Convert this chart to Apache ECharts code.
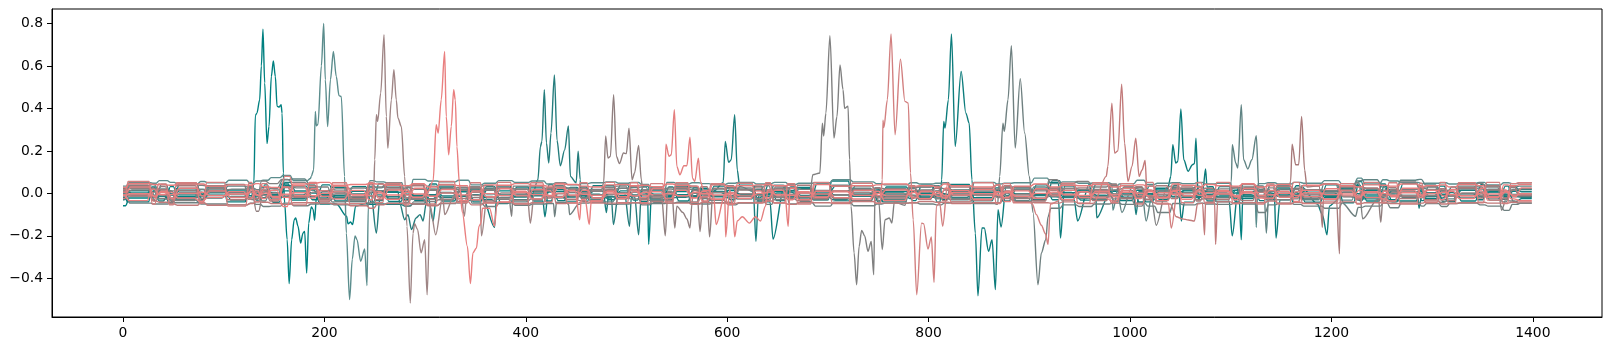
<!DOCTYPE html>
<html><head><meta charset="utf-8">
<style>html,body{margin:0;padding:0;background:#fff}#c{width:1617px;height:360px}</style>
<script src="https://cdn.jsdelivr.net/npm/echarts@6/dist/echarts.min.js"></script>
</head><body><div id="c"></div>
<script>
const xTicks=[0,200,400,600,800,1000,1200,1400];
const yTicks=[-0.4,-0.2,0,0.2,0.4,0.6,0.8];
// plateau boundaries of the dense band (x values)
const bandEdges=[0,4,28,34,45,52,75,82,103,124,
130,137,145,157,167,184,194,207,224,243,
250,260,278,286,301,313,331,344,357,371,
387,404,419,428,440,453,463,478,490,503,
513,523,538,548,563,573,583,599,609,627,
637,645,659,669,685,703,723,746,754,780,
789,805,813,821,843,866,873,883,903,919,
931,947,962,980,990,1005,1015,1025,1040,1050,
1065,1073,1085,1101,1110,1125,1135,1145,1161,1170,
1191,1208,1224,1231,1249,1256,1267,1287,1292,1307,
1315,1325,1345,1353,1369,1377,1385,1399];
// band levels, ten-thousandths scale kept compact: value/1000, estimated by eye
const levelsTealA=[-58,-22,12,-26,32,-14,18,-9,16,-11,
20,-12,26,-30,-15,-48,-50,-46,-48,-52,
-50,-52,-60,-50,-18,22,-14,16,-20,12,
-16,10,-12,18,-15,8,-20,14,-10,16,
-18,12,-14,9,-16,20,-12,15,-10,18,
-14,10,-16,22,-18,12,-10,16,-14,9,
-18,12,-15,10,-20,14,-12,18,-10,15,
-14,16,-12,10,-18,14,-10,20,-16,12,
-14,9,-18,15,-12,10,-16,20,-14,12,
-18,22,-30,14,-12,18,-10,16,-14,12,
-10,15,-12,18,-14,10,-6];
const levelsTealB=[22,30,-34,42,-38,48,-30,36,-32,30,
-36,40,-42,36,34,-30,40,-36,32,-42,
45,-38,30,-34,44,-36,28,-40,32,-44,
30,-36,42,-34,28,-38,36,-30,40,-32,
34,-42,30,-36,28,-40,34,-30,38,-36,
42,-34,30,-38,44,-32,36,-40,30,-34,
38,-42,32,-36,30,-44,34,-38,40,-30,
36,-32,42,-36,30,-40,34,-28,38,-42,
30,-36,32,-40,28,-34,38,-30,36,-42,
40,-44,56,-36,34,-40,46,-34,32,-38,
30,-36,42,-32,34,-38,-24];
const levelsTealC=[-18,-40,30,-12,-44,22,-32,26,-40,34,
-26,30,-20,44,-32,26,-30,28,-38,30,
-34,28,-30,40,-26,34,-44,30,-24,36,
-30,26,-36,22,-40,30,-28,36,-24,30,
-38,26,-30,34,-42,24,-32,28,-26,34,
-40,30,-22,28,-30,58,-34,26,-40,30,
-24,36,-28,42,-34,26,-36,30,-28,52,
-30,42,-24,36,-34,28,-40,24,-30,38,
-26,32,-38,28,-24,34,-30,26,-40,30,
-34,28,38,-26,44,-30,-36,28,-24,34,
-38,26,-30,36,-28,34,18];
const levelsTealD=[10,14,-10,20,-8,12,-6,10,-5,8,
-14,6,-10,52,12,-16,8,-20,10,-14,
12,-24,8,-16,20,-12,16,-30,14,-10,
20,-12,8,-18,14,-6,10,-16,12,-8,
16,-10,6,-14,18,-8,12,-20,10,-12,
8,-16,14,-10,6,34,-12,16,-8,14,
-18,6,-12,16,-8,18,-10,20,-6,60,
-12,16,-8,14,-20,10,-14,12,-6,16,
-10,20,-8,14,-16,6,-12,18,-10,14,
-16,6,-34,16,-8,12,-20,6,-14,10,
-8,14,-18,6,-12,16,8];
const levelsTealE=[-30,-8,22,-36,10,-26,6,-22,4,-24,
8,-20,4,-14,-8,16,-22,6,-18,4,
-20,10,-14,6,-26,4,-12,22,-30,-48,
4,-20,6,-12,2,-18,-4,-22,2,-16,
4,-24,6,-10,2,-18,4,-12,-6,-22,
2,-14,6,-20,-4,-30,4,-16,2,-24,
6,-14,-2,-20,4,-12,2,-18,-4,-12,
4,-24,6,-14,2,-18,-2,-16,4,-10,
-20,-4,2,-14,-6,-18,2,-10,4,-24,
2,-14,-20,6,-18,4,12,-12,2,-22,
4,-10,2,-16,-4,-12,-14];
const levelsSlateA=[34,50,48,60,52,44,56,50,62,46,
58,62,74,84,60,70,52,56,44,60,
54,50,-20,66,58,54,62,40,48,60,
52,58,44,50,40,46,50,54,48,52,
42,-30,52,44,50,46,42,48,52,44,
46,52,42,48,50,64,54,46,40,50,
44,48,50,-24,52,44,48,50,72,46,
54,48,50,44,46,62,42,48,50,46,
52,44,48,-30,42,46,50,44,52,48,
60,46,72,44,64,58,52,46,48,50,
44,48,52,40,50,46,50];
const levelsSlateB=[-12,36,42,12,-30,-30,-44,16,34,28,
10,-36,24,64,68,40,-40,-24,-30,46,
26,36,-44,-18,34,28,-38,-32,24,30,
-40,-26,18,36,26,-20,-30,-40,24,28,
30,-36,-22,30,26,-24,-32,36,20,-30,
-28,38,26,-22,-30,38,24,-34,-28,24,
30,36,-22,-30,24,40,-20,-34,30,26,
36,-22,-30,38,24,30,-18,-36,28,22,
34,-26,-20,36,30,-24,-28,38,22,-30,
46,-32,58,64,30,-36,62,66,40,-30,
-26,34,30,-22,-40,28,34];
const levelsGreyA=[8,-46,-50,-50,-44,-44,-50,-50,-54,-46,
-52,-62,-60,-46,-58,-50,-48,-54,-56,-44,
-52,-46,-60,-40,-56,-48,20,-46,-62,-44,
-56,-50,-48,-42,-52,-46,-42,-52,-50,-44,
-54,-48,-46,-42,-48,-50,-44,-54,-46,-40,
-52,30,-50,-44,-60,-42,-58,-50,-46,-44,
-50,-54,-46,-40,-48,-52,-44,-46,-58,-70,
-54,-62,-50,-46,-52,-44,-60,-90,-48,-54,
-46,-50,-52,-44,-50,-90,-54,-46,-52,-60,
-70,-44,-66,-60,-46,-68,-40,-60,-48,-62,
-48,-46,-54,-60,-80,-52,-46];
const levelsGreyB=[16,34,26,-24,-30,-34,38,36,42,-28,
-30,58,46,66,52,36,30,-40,-36,-46,
30,40,22,-28,-38,-30,28,22,36,-28,
34,34,24,-20,-30,-34,18,28,34,-26,
-24,-34,20,16,34,-22,-30,-42,26,20,
36,-30,-22,-34,36,24,46,-38,-56,28,
30,34,-22,-28,-34,20,30,26,-34,64,
44,56,30,44,-26,-60,-30,28,34,20,
-30,-24,-38,26,30,34,-22,-30,-26,36,
44,28,50,-30,-26,-40,54,24,30,-42,
-34,22,48,30,-26,-36,-46];
const levelsBrownA=[12,24,-18,32,-22,14,-36,24,-16,22,
-84,16,-22,30,-18,24,-26,12,-16,26,
-14,40,-20,-24,18,-28,14,-20,16,-22,
20,-30,26,-14,18,-24,12,-18,26,-10,
16,-22,10,-28,14,-18,24,-14,16,-26,
12,-20,28,-16,10,-24,18,-12,22,-18,
14,-26,16,-10,22,-20,12,-24,18,-14,
22,-12,18,-26,14,-20,10,-18,22,-14,
16,-26,12,-18,20,-14,26,-12,18,-22,
-30,14,-20,24,-12,18,-16,22,-10,20,
-14,24,-12,18,-20,14,-8];
const levelsBrownB=[-6,-14,6,-8,-30,4,-12,8,-4,-20,
4,-10,2,-8,-18,6,-14,-2,-26,4,
-12,2,-18,8,-4,-14,6,-10,-20,2,
-8,6,-16,-2,-12,4,-22,-6,2,-10,
6,-16,-4,-12,2,-8,4,-18,-2,-10,
6,-14,-4,2,-16,-8,4,-20,-2,-12,
6,-8,-18,2,-10,4,-14,-4,-22,2,
-10,6,-16,-2,-8,4,-18,-6,2,-12,
6,-14,-2,-10,4,-18,-6,2,-12,-4,
6,-16,-8,2,-14,4,-10,-18,-2,6,
-12,2,-8,-16,4,-10,-6];
const levelsRoseA=[4,40,-30,18,-40,36,-26,32,-30,36,
-24,14,-36,28,-16,36,-28,34,-24,40,
-30,26,-34,36,-28,42,-24,30,-36,24,
-32,36,-22,30,-28,24,-36,20,-26,34,
-30,22,-36,28,-20,32,-28,36,-24,30,
-36,20,-28,38,-24,34,-32,26,-22,36,
-28,24,-34,30,-26,40,-24,32,-36,22,
-30,26,-34,40,-22,30,-28,36,-24,30,
-36,24,-28,30,-34,26,-22,32,-30,36,
-26,34,-30,24,-36,28,-24,36,-30,22,
-34,28,-22,36,-26,30,-12];
const levelsCoralA=[20,-8,-36,-42,-50,-56,-44,-56,-54,-48,
-40,-42,-48,-52,-44,-44,-46,-50,-58,-70,
-54,-48,-46,-50,-58,-46,-40,-54,-44,-42,
-50,-44,28,-48,-46,-40,-46,-46,-44,-44,
-48,-40,-46,-46,-52,-42,-46,-48,-44,-44,
-36,-46,-52,-42,-44,-48,-38,-46,-46,-44,
-38,-42,-42,-48,-44,-44,36,-40,-44,-46,
-40,-48,-46,-42,-46,-46,-44,-50,-38,-44,
-46,-42,-40,-48,-44,-44,-36,-50,-42,-46,
-46,-40,-48,-44,-44,-48,-50,-46,-36,-50,
-48,-44,-42,-46,-46,-42,-40];
const levelsCoralB=[-24,56,-50,44,-54,50,-46,52,-60,52,
-40,46,-30,30,-54,52,-36,50,-48,52,
-44,48,-54,46,-50,56,-44,50,-46,52,
-48,50,-42,48,-44,50,-40,52,-46,50,
-44,46,-40,50,-42,-16,46,-52,48,-46,
50,-44,46,-50,52,-44,48,-46,50,-52,
46,-44,52,-40,50,-48,46,-44,52,-36,
48,-46,50,-44,46,-50,52,-46,48,-44,
50,-46,52,-48,46,-50,44,-46,52,-48,
-40,46,-50,52,-44,50,-46,48,-44,52,
-46,50,-44,52,-48,46,50];
const levelsCoralC=[6,30,-16,10,-24,24,-12,12,-20,16,
-10,26,-18,80,-10,22,-14,36,-8,18,
-22,16,-8,24,-14,18,-34,12,-16,22,
-12,18,-10,24,-8,14,-22,12,-16,8,
-10,24,-14,10,-20,14,-8,18,-12,-12,
16,-8,24,-14,10,-20,14,-10,16,-22,
10,-14,24,-8,18,-12,10,-16,22,-8,
14,-20,10,-16,24,-12,8,-18,14,-10,
20,-12,8,-16,24,-10,14,-18,8,-14,
22,-8,14,-20,10,-16,24,-8,14,-12,
18,-10,24,-14,8,-16,26];
const levelsCoralD=[-10,-34,20,-6,6,-22,-38,-20,8,-26,
12,-24,14,-62,36,-22,12,-26,14,-30,
8,-28,16,-18,8,-24,64,-18,20,-40,
10,-26,12,-18,14,-30,-36,10,-24,16,
-20,8,-26,14,-22,8,-28,-2,-24,12,
-22,14,-30,8,-18,12,-26,10,-34,14,
-24,10,-22,14,-30,8,-20,12,-24,16,
-30,8,-22,-36,12,-24,16,-22,10,-28,
12,-18,14,-30,8,-22,-26,10,-20,14,
-28,12,-22,8,-26,-36,12,-20,14,-30,
10,-24,12,-20,16,-26,-34];
const levelsCoralE=[28,46,42,40,38,44,44,34,40,38,
46,32,28,-18,44,48,52,38,42,46,
44,38,36,44,30,40,36,-30,40,38,
46,38,34,44,42,34,30,40,42,36,
38,32,44,38,34,-36,40,32,36,40,
42,36,38,-30,42,34,36,40,44,34,
36,30,44,36,30,40,-38,34,44,30,
38,36,42,30,36,40,34,-34,44,38,
30,42,36,34,44,30,36,42,-38,38,
44,36,30,40,38,34,44,30,36,40,
30,42,36,-32,40,36,42];
// slower inner lines that fill the middle of the band
const levelsInnerA=[2,6,9,5,-3,-7,-4,3,7,4,
-2,-8,-5,12,6,2,-6,-9,-3,4,
8,5,-4,-9,-6,3,8,5,-2,-7,
-4,2,7,9,4,-3,-8,-5,2,6,
3,-4,-9,-6,1,5,9,4,-3,-7,
-5,2,7,4,-2,-8,-4,3,9,6,
-1,-6,-9,-3,4,8,5,-2,-7,-4,
3,9,6,-1,-5,-8,-2,4,7,3,
-4,-9,-5,2,8,5,-3,-7,-4,3,
9,5,-2,-8,-6,1,6,9,3,-4,
-7,-2,5,8,3,-5,-3];
const levelsInnerB=[-4,-12,-18,-14,-8,-20,-15,-10,-16,-22,
-13,-6,-12,-19,-24,-14,-9,-17,-21,-12,
-7,-16,-22,-15,-10,-18,-13,-6,-14,-20,
-16,-9,-13,-21,-17,-11,-6,-15,-20,-13,
-8,-14,-22,-18,-11,-7,-16,-21,-14,-9,
-13,-19,-23,-15,-10,-6,-14,-20,-16,-9,
-12,-22,-17,-10,-7,-15,-21,-13,-8,-16,
-20,-14,-9,-12,-22,-16,-10,-7,-15,-19,
-12,-8,-17,-22,-14,-10,-6,-16,-20,-13,
-9,-15,-24,-17,-11,-7,-14,-20,-15,-9,
-13,-21,-16,-10,-7,-15,-18];
const levelsInnerC=[6,16,22,18,12,24,19,14,20,26,
17,11,16,30,26,18,13,21,25,16,
12,20,27,19,14,22,17,11,18,24,
20,13,17,25,21,15,10,19,24,17,
12,18,26,22,15,11,20,25,18,13,
17,23,27,19,14,10,18,24,20,13,
16,26,21,14,11,19,25,17,12,20,
24,18,13,16,26,20,14,11,19,23,
16,12,21,26,18,14,10,20,24,17,
13,19,32,21,15,11,18,24,19,13,
17,25,20,14,11,19,22];
const levelsInnerD=[-8,-2,-12,4,-6,-1,5,-10,-3,6,
-9,2,-14,-4,3,-11,0,7,-5,-12,
1,-8,5,-3,-13,2,-7,6,-1,-10,
3,-6,-12,1,7,-4,-9,2,-2,-13,
4,-7,1,-11,5,-2,-8,3,-12,0,
6,-5,-10,2,-3,7,-9,0,-12,4,
-6,1,-11,5,-2,-8,3,-13,0,6,
-4,-10,2,-7,5,-1,-12,3,-6,1,
-9,4,-3,-11,2,6,-7,0,-10,3,
-5,1,-15,6,-2,-9,3,-12,0,5,
-6,-11,2,-3,7,-8,-2];
// excursions out of the band, [x, y]
const burst1=[[130,.05],[131.4,.367],[133,.378],[135.7,.44],[137.4,.6],[139,.773],[140.7,.52],[143,.234],[145,.315],[147.3,.55],[149.3,.624],[151.3,.55],[153,.41],[155,.406],[157,.417],[158,.378],[159.2,.096],[160.5,-.045],[163,-.218],[165,-.425],[167.5,-.218],[170,-.124],[171.5,-.116],[173.8,-.155],[176.4,-.234],[178.7,-.187],[180.4,-.179],[182.4,-.375],[184.4,-.14],[187,-.064],[188.7,-.074],[190.3,-.127],[192,-.02]];
const tail1=[[212,-.05],[222,-.108],[223.5,-.143],[226,-.135],[228,-.147],[231,-.06]];
const burst2=[[187,.08],[189.3,.11],[191,.386],[192,.318],[193.6,.325],[197,.6],[199.3,.8],[200.9,.535],[203.2,.315],[206,.535],[208.9,.668],[211.8,.55],[214.5,.46],[216.8,.456],[220,.08],[221.8,-.187],[225,-.5],[227.7,-.31],[230.4,-.2],[232.4,-.218],[236,-.32],[240,-.262],[242.3,-.434],[243.6,-.06]];
const burst3=[[249,.017],[250,.158],[251.6,.37],[252.9,.339],[255.9,.472],[259.2,.747],[261.5,.362],[263,.213],[266.5,.44],[269,.582],[271.4,.44],[273,.355],[276.4,.315],[279.7,.08],[282,-.155],[285.3,-.516],[288,-.187],[289.6,-.143],[292.5,-.17],[296,-.28],[299.6,-.218],[302,-.477],[305,-.06]];
const burst4=[[308,.06],[311,.323],[313,.284],[316,.44],[319.4,.668],[321,.362],[323.4,.182],[326,.315],[328.4,.488],[330,.44],[331.6,.22],[334,.05],[337,-.09],[342,-.25],[345,-.425],[347.5,-.28],[351,-.257],[353.5,-.155],[355.5,-.14],[357,-.07],[364,-.07],[369,-.155],[371,-.06]];
const burst5=[[412,.064],[414.5,.22],[416,.245],[418.4,.488],[420.5,.237],[422.8,.143],[425,.284],[428.4,.558],[431,.25],[434.3,.13],[438.6,.205],[442.3,.318],[444.3,.08],[450,.05],[452,.198],[454,.064]];
const burst6=[[477.3,.05],[479.3,.27],[481.6,.166],[484,.174],[487.2,.464],[490,.174],[493,.14],[497,.19],[499.8,.187],[502.5,.307],[505.5,.064],[508,.096],[512,.226],[514.7,.064]];
const burst7=[[538,.05],[539.2,.232],[542.2,.174],[544.5,.182],[547.5,.394],[550,.127],[553,.088],[557,.13],[560,.13],[563,.264],[565.5,.072],[567.8,.056],[571.4,.166],[573.4,.056]];
const burst8=[[596,.05],[598.1,.245],[601.4,.146],[604,.158],[607.4,.37],[610,.11],[612.4,.033]];
const burst9=[[685,.088],[692,.096],[694.5,.33],[695.8,.27],[698,.378],[702,.742],[706,.26],[709,.362],[712,.605],[715,.488],[716.6,.4],[720,.41],[721.5,.158],[723,-.06],[726,-.28],[728.5,-.43],[731,-.25],[733.5,-.174],[736.5,-.2],[739.8,-.273],[743,-.226],[745.5,-.383],[746.8,.017]];
const burst10=[[754,.064],[754.6,.344],[755.6,.31],[759,.44],[762.7,.75],[766.7,.276],[772,.632],[776.5,.433],[779.8,.425],[782,.096],[784.7,-.124],[788.2,-.477],[793,-.14],[795,-.143],[799.4,-.262],[802.7,-.205],[805.4,-.419],[807.7,-.06]];
const burst11=[[813,.064],[815,.339],[816.3,.307],[819.6,.44],[822.7,.75],[826.4,.221],[832.3,.574],[837,.378],[840.3,.33],[843,.064],[846.4,-.187],[849,-.482],[853,-.163],[855.3,-.163],[859.5,-.273],[863,-.218],[866.3,-.453],[868.9,-.077]];
const burst12=[[870.6,.08],[873.8,.33],[875.2,.292],[878.8,.44],[882.2,.695],[886,.213],[891,.54],[895.4,.284],[900,.08],[903.7,-.09],[908.6,-.43],[912,-.28],[916.3,-.218],[918.6,-.11]];
const burst13=[[976.4,.08],[978,.127],[982,.425],[984.7,.19],[988,.2],[991.7,.514],[994.6,.237],[998,.056],[1002,.127],[1005.7,.26],[1009,.08],[1012,.11],[1015,.155],[1017,-.014]];
const burst14=[[1040.5,.08],[1042.5,.229],[1045.4,.143],[1047.5,.15],[1050.5,.397],[1053.4,.158],[1057.7,.104],[1062,.135],[1064,.14],[1065.5,.26],[1067.8,-.03],[1072.5,.02],[1075,.115],[1076.5,.03]];
const burst15=[[1100.6,.056],[1101.6,.229],[1105,.143],[1107,.119],[1110.5,.417],[1112.8,.158],[1117,.115],[1121,.158],[1125.4,.271],[1128,.017],[1133,.02],[1135.4,.15],[1138,.02]];
const burst16=[[1159.5,.056],[1161,.232],[1164.5,.135],[1167.5,.135],[1170.4,.362],[1173.4,.11],[1175.7,.03]];
const tailGrey=[[754,-.265],[756.7,-.124],[761,-.116],[763.5,-.14],[766,-.04]];
const tailCoral1=[[605,-.05],[607.5,-.205],[610,-.13],[615,-.11],[622,-.14],[628,-.11],[633,-.13],[638,-.06]];
const tailCoral2=[[903,-.05],[907,-.1],[912,-.15],[916,-.19],[918.6,-.24],[921,-.05]];
const tailBrown=[[550,-.06],[556,-.09],[560,-.12],[563,-.163],[565,-.05]];
const tailRust=[[1040,-.05],[1046,-.11],[1052,-.12],[1058,-.125],[1064,-.13],[1067,-.05]];
const tailTeal=[[1186,-.05],[1191,-.1],[1195.6,-.195],[1198,-.06]];
const tailTealB=[[275,-.05],[279.7,-.124],[283,-.1],[286.5,-.17],[291,-.116],[295,-.1],[298,-.13],[301,-.05]];
function single(x,y){return [[x,y]];}
function build(levels,runs,shift,gap){
  let pts=[];
  for(let i=0;i<levels.length;i++){
    const a=bandEdges[i],b=bandEdges[i+1],g=Math.min(gap,(b-a)/3);
    pts.push([i===0?a:a+g+shift,levels[i]/1000]);
    pts.push([i===levels.length-1?b:b-g+shift,levels[i]/1000]);
  }
  runs.forEach(r=>{
    const lo=r[0][0],hi=r[r.length-1][0];
    pts=pts.filter(p=>p[0]<lo-0.8||p[0]>hi+0.8);
    pts=pts.concat(r);
  });
  return pts.sort((p,q)=>p[0]-q[0]);
}
// colour, band levels, excursions, edge shift, transition half-width
const seriesList=[
 ['#008080',levelsTealA,[burst1,tail1,single(522,-.24),single(1110.5,-.218),single(308,-.13)],0,2],
 ['#0d7c7c',levelsTealB,[burst11,single(872,-.158),single(931,-.21),single(1145,-.21),single(419,-.11),single(1051,-.13)],1,3],
 ['#0a7b7b',levelsTealC,[burst14,single(1101.5,-.2),tailTeal,single(369,-.16),single(645.5,-.215),single(948,-.13)],-1,1.5],
 ['#1a7d7d',levelsTealD,[burst8,single(628.5,-.226),single(480,-.09),single(1006,-.1),single(1287,-.07),single(967,-.115)],1.5,2.5],
 ['#247c7c',levelsTealE,[burst5,tailTealB,single(251.6,-.187),single(487,-.147),single(503,-.155),single(512,-.195)],-1.5,3.5],
 ['#0f7f7f',levelsInnerA,[],0.5,4],
 ['#2a7e7e',levelsInnerB,[],-0.5,4],
 ['#5b8d8d',levelsSlateA,[burst2,single(1125.4,-.16),single(983,-.08)],0.5,1.5],
 ['#5f8383',levelsSlateB,[burst15,single(1135.4,-.187),single(1016,-.13),single(992,-.09)],-1,2.5],
 ['#6f8080',levelsGreyA,[burst12,single(428.7,-.11),single(443.5,-.1),single(1224,-.108)],1,1.5],
 ['#808080',levelsGreyB,[burst9,tailGrey,single(1026,-.15),single(1369,-.08),single(1231,-.12),single(386,-.108)],-1.5,2],
 ['#7a8080',levelsInnerC,[],1,4],
 ['#907f7f',levelsBrownA,[burst6,tailBrown,single(538.5,-.2),single(548,-.163),single(573,-.18),single(582.5,-.205),single(1249,-.136)],0,3],
 ['#9f8585',levelsBrownB,[burst3,single(310.5,-.195),single(356,-.2),single(404.5,-.14),single(319.5,-.1),single(339,-.108)],1,3.5],
 ['#a87a7a',levelsRoseA,[burst16,single(1208,-.284),single(1191,-.16)],-1,2],
 ['#c27a7a',levelsCoralA,[burst13,tailRust,single(1074,-.195),single(1085,-.24)],0.5,1.5],
 ['#d27f7f',levelsCoralB,[burst10,single(814,-.155),tailCoral2,single(1041,-.163)],-0.5,1.5],
 ['#e47e7e',levelsCoralC,[burst7,tailCoral1,single(598.5,-.205),single(660.5,-.155),single(589,-.147)],1,2.5],
 ['#e97f7f',levelsCoralD,[burst4,single(453.5,-.124),single(463,-.147)],-1,3],
 ['#e67c7c',levelsCoralE,[],0,2],
 ['#e88080',levelsInnerD,[],0.5,3]
];
const chart=echarts.init(document.getElementById('c'),null,{renderer:'canvas'});
const tickStyle={show:true,length:5,lineStyle:{color:'#000',width:1}};
const lineStyle={show:true,onZero:false,lineStyle:{color:'#000',width:1}};
chart.setOption({
  animation:false,
  backgroundColor:'#fff',
  grid:{left:52,top:9,width:1550,height:308,show:true,borderColor:'#000',borderWidth:1,backgroundColor:'#fff'},
  xAxis:{type:'value',min:-70.5,max:1468.7,
    axisLine:lineStyle,splitLine:{show:false},
    axisTick:Object.assign({customValues:xTicks},tickStyle),
    axisLabel:{customValues:xTicks,color:'#000',fontFamily:'DejaVu Sans',fontSize:13.9,margin:9,formatter:v=>String(v)}},
  yAxis:{type:'value',min:-0.582,max:0.868,
    axisLine:lineStyle,splitLine:{show:false},
    axisTick:Object.assign({customValues:yTicks},tickStyle),
    axisLabel:{customValues:yTicks,color:'#000',fontFamily:'DejaVu Sans',fontSize:13.9,margin:9,
      formatter:v=>Number(v).toFixed(1).replace('-','\u2212')}},
  series:seriesList.map(s=>({type:'line',showSymbol:false,symbol:'none',sampling:null,
    smooth:0.3,smoothMonotone:'x',clip:true,silent:true,
    lineStyle:{color:s[0],width:1.4},
    data:build(s[1],s[2],s[3],s[4])}))
});
</script></body></html>
